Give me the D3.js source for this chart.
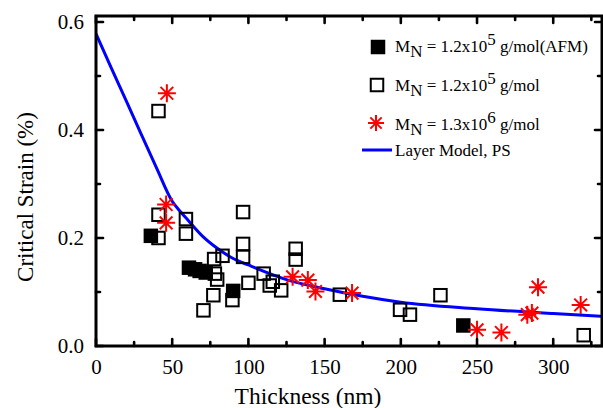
<!DOCTYPE html>
<html><head><meta charset="utf-8">
<script src="https://cdn.jsdelivr.net/npm/d3@7"></script>
<style>body{margin:0;background:#fff}svg{display:block}</style>
</head><body><svg id="c" width="603" height="408" font-family="Liberation Serif, Times New Roman, Times, serif"></svg>
<script>
// Data (thickness nm, critical strain %)
const afmThickness = [36, 61, 65, 68, 72, 90, 241];
const afmStrain    = [0.204, 0.145, 0.142, 0.139, 0.136, 0.102, 0.038];
const openThickness = [41, 41, 41, 59, 59, 96.5, 96.5, 96.5, 77.5, 83, 78, 79.5, 77, 70.5, 89.5, 100, 110, 116, 114, 121.5, 131, 131, 160, 199.5, 206, 226, 320];
const openStrain    = [0.435, 0.243, 0.200, 0.235, 0.208, 0.248, 0.189, 0.165, 0.161, 0.167, 0.134, 0.123, 0.094, 0.066, 0.085, 0.117, 0.134, 0.119, 0.112, 0.103, 0.180, 0.160, 0.095, 0.067, 0.058, 0.094, 0.020];
const starThickness = [46.5, 46, 46, 129, 139, 144, 168, 250, 266, 283, 286, 290, 318];
const starStrain    = [0.468, 0.262, 0.228, 0.128, 0.122, 0.101, 0.098, 0.030, 0.025, 0.058, 0.061, 0.109, 0.076];
const modelThickness = [0, 10, 20, 30, 40, 50, 55, 60, 70, 80, 90, 100, 125, 150, 175, 200, 250, 300, 332];
const modelStrain    = [0.578, 0.515, 0.453, 0.390, 0.328, 0.268, 0.250, 0.234, 0.203, 0.180, 0.162, 0.150, 0.123, 0.106, 0.092, 0.081, 0.069, 0.060, 0.055];
const xTicks = [0, 50, 100, 150, 200, 250, 300];
const yTicks = [0.0, 0.2, 0.4, 0.6];
const legendLabels = [["M","N"," = 1.2x10","5"," g/mol(AFM)"],["M","N"," = 1.2x10","5"," g/mol"],["M","N"," = 1.3x10","6"," g/mol"]];
const modelLabel = "Layer Model, PS";

const FONT = "Liberation Serif, Times New Roman, Times, serif";
const svg = d3.select("#c");
const L=96, R=602, T=16, B=346;
const x = d3.scaleLinear().domain([0,332]).range([L,R]);
const y = d3.scaleLinear().domain([0,0.611]).range([B,T]);

svg.append("defs").append("clipPath").attr("id","pc").append("rect").attr("x",L).attr("y",T).attr("width",R-L).attr("height",B-T);
const plot = svg.append("g").attr("clip-path","url(#pc)");

// model line
plot.append("path").datum(modelThickness.map((t,i)=>[t,modelStrain[i]]))
  .attr("d", d3.line().x(d=>x(d[0])).y(d=>y(d[1])).curve(d3.curveMonotoneX))
  .attr("fill","none").attr("stroke","#0000ff").attr("stroke-width",3);

const S=12.5;
function sq(g, px, py, filled){
  g.append("rect").attr("x",px-S/2).attr("y",py-S/2).attr("width",S).attr("height",S)
   .attr("fill", filled?"#000":"none")
   .attr("stroke","#000").attr("stroke-width",2);
}
function star(g, px, py, r){
  const p = d3.path();
  for(let k=0;k<4;k++){const a=k*Math.PI/4; p.moveTo(px+r*Math.cos(a),py+r*Math.sin(a)); p.lineTo(px-r*Math.cos(a),py-r*Math.sin(a));}
  g.append("path").attr("d",p.toString()).attr("stroke","#ff0000").attr("stroke-width",2).attr("fill","none");
}
openThickness.forEach((t,i)=>sq(plot,x(t),y(openStrain[i]),false));
afmThickness.forEach((t,i)=>sq(plot,x(t),y(afmStrain[i]),true));
starThickness.forEach((t,i)=>star(plot,x(t),y(starStrain[i]),9));

// axes
const axB = d3.axisBottom(x).tickValues(xTicks).tickSize(0).tickPadding(12).tickFormat(d3.format("d"));
const axL = d3.axisLeft(y).tickValues(yTicks).tickSize(0).tickPadding(12).tickFormat(d3.format(".1f"));
const gb = svg.append("g").attr("transform",`translate(0,${B})`).call(axB);
const gl = svg.append("g").attr("transform",`translate(${L},0)`).call(axL);
[gb,gl].forEach(g=>{g.select(".domain").remove(); g.attr("font-family",FONT).attr("font-size",21); g.selectAll("text").attr("fill","#000");});
gb.selectAll("text").attr("dy","0.71em").attr("y",13);

const tk = svg.append("g").attr("stroke","#000").attr("stroke-width",2.6).attr("stroke-linecap","round");
const xMinor = d3.range(25, 332, 50);
const yMinor = [0.1,0.3,0.5];
xTicks.forEach(v=>{tk.append("line").attr("x1",x(v)).attr("x2",x(v)).attr("y1",B).attr("y2",B-7);
  tk.append("line").attr("x1",x(v)).attr("x2",x(v)).attr("y1",T).attr("y2",T+7);});
xMinor.forEach(v=>{tk.append("line").attr("x1",x(v)).attr("x2",x(v)).attr("y1",B).attr("y2",B-4);
  tk.append("line").attr("x1",x(v)).attr("x2",x(v)).attr("y1",T).attr("y2",T+4);});
yTicks.forEach(v=>{tk.append("line").attr("y1",y(v)).attr("y2",y(v)).attr("x1",L).attr("x2",L+7);
  tk.append("line").attr("y1",y(v)).attr("y2",y(v)).attr("x1",R).attr("x2",R-7);});
yMinor.forEach(v=>{tk.append("line").attr("y1",y(v)).attr("y2",y(v)).attr("x1",L).attr("x2",L+4);
  tk.append("line").attr("y1",y(v)).attr("y2",y(v)).attr("x1",R).attr("x2",R-4);});

svg.append("rect").attr("x",L).attr("y",T).attr("width",R-L).attr("height",B-T)
  .attr("fill","none").attr("stroke","#000").attr("stroke-width",3);

// titles
svg.append("text").attr("x",308).attr("y",404).attr("text-anchor","middle").attr("font-size",23.5).text("Thickness (nm)");
svg.append("text").attr("transform","translate(33,197) rotate(-90)").attr("text-anchor","middle").attr("font-size",23).text("Critical Strain (%)");

// legend
const lg = svg.append("g");
const rowsY = [52, 91, 130];
legendLabels.forEach((parts,i)=>{
  const yy = rowsY[i];
  if(i===0) sq(lg,378,yy-5,true);
  if(i===1) sq(lg,377,yy-6,false);
  if(i===2) star(lg,376,yy-7,8);
  const t = lg.append("text").attr("x",395).attr("y",yy).attr("font-size",17);
  t.append("tspan").text(parts[0]);
  t.append("tspan").attr("dy",5).text(parts[1]);
  t.append("tspan").attr("dy",-5).text(parts[2]);
  t.append("tspan").attr("dy",-7).text(parts[3]);
  t.append("tspan").attr("dy",7).text(parts[4]);
});
lg.append("line").attr("x1",362).attr("x2",392).attr("y1",150).attr("y2",150).attr("stroke","#0000ff").attr("stroke-width",3);
lg.append("text").attr("x",395).attr("y",156).attr("font-size",17).text(modelLabel);
</script></body></html>
